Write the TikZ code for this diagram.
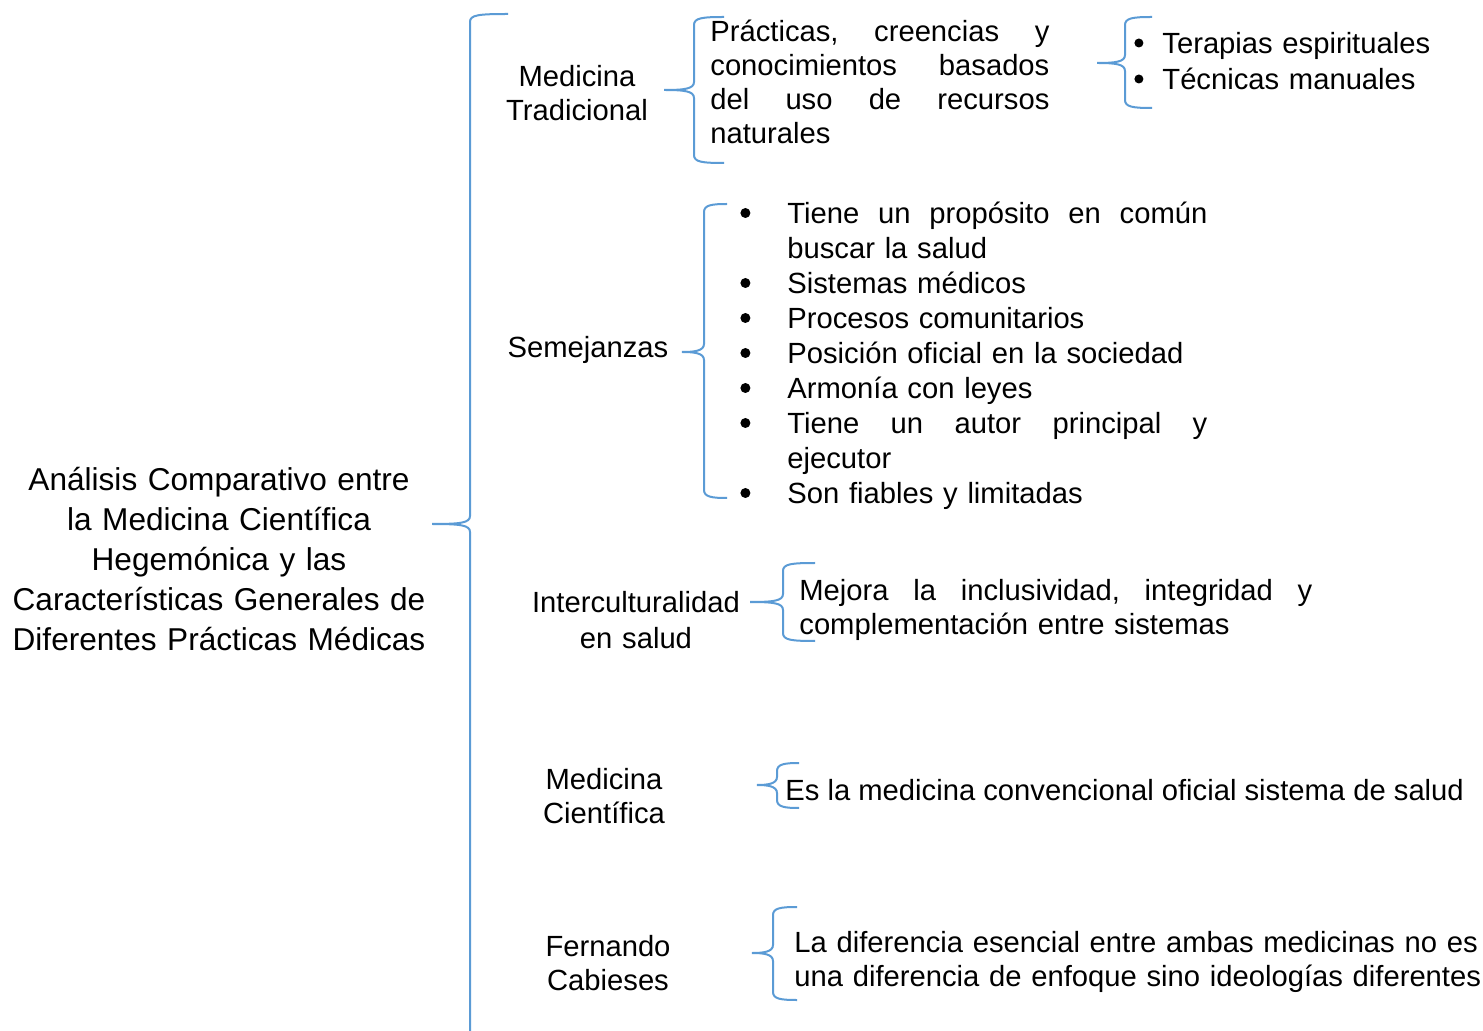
\documentclass[tikz,border=0pt]{standalone}
\usepackage{fontspec}
\setmainfont{Liberation Sans}
\definecolor{bracecol}{RGB}{91,155,213}

% word-style curly brace: tip x, tip y, spine x, end x, top y, bottom y
\newcommand{\wordbrace}[6]{%
  \draw[brace line] (#4,#5) .. controls ({#3+8},#5) and (#3,{#5+1}) .. (#3,{#5+8})
    -- (#3,{#2-8}) .. controls (#3,{#2-1}) and ({#3-10},#2) .. (#1,#2)
    .. controls ({#3-10},#2) and (#3,{#2+1}) .. (#3,{#2+8})
    -- (#3,{#6-8}) .. controls (#3,{#6-1}) and ({#3+8},#6) .. (#4,#6);}
% bullet of a list line, in a box of the given width
\newcommand{\blt}[2]{\makebox[#1][l]{\tikz[baseline=-5.5pt]\fill (#2,0) circle (#2);}}

\begin{document}
\begin{tikzpicture}[x=0.5pt, y=-0.5pt,
    brace line/.style={draw=bracecol, line width=1pt},
    txt/.style={inner sep=0pt, font=\fontsize{14.6}{17}\selectfont},
    head/.style={txt, anchor=base, align=center},
    body/.style={txt, anchor=base west, align=left}]
  \useasboundingbox (0,0) rectangle (1483,1031);

  \node[head, text width=215pt, font=\fontsize{15.8}{20}\selectfont] (analisis) at (219,491)
    {Análisis Comparativo entre\\ la Medicina Científica\\ Hegemónica y las\\
     Características Generales de\\ Diferentes Prácticas Médicas};

  \wordbrace{432}{524}{470}{508}{14}{1060}

  % medicina tradicional
  \node[head, text width=90pt] (medtrad) at (577,87) {Medicina\\ Tradicional};
  \wordbrace{664}{90}{694}{724}{17}{163}
  \node[body, text width=169.5pt] (practicas) at (710,42)
    {Prácticas,\hfill creencias\hfill y\\ conocimientos\hfill basados\\
     del\hfill uso\hfill de\hfill recursos\\ naturales};
  \wordbrace{1097}{63}{1125}{1152}{17}{108}
  \node[body, text width=170pt, font=\fontsize{14.6}{18}\selectfont] (tecnicas) at (1134,54)
    {\blt{14pt}{2.25pt}Terapias espirituales\\
     \blt{14pt}{2.25pt}Técnicas manuales};

  % semejanzas
  \node[head] (semejanzas) at (588,358) {Semejanzas};
  \wordbrace{682}{352}{704}{727}{204}{498}
  \node[body, text width=233.5pt, font=\fontsize{14.6}{17.5}\selectfont] (semlist) at (740,224)
    {\blt{23.5pt}{2.5pt}Tiene\hfill un\hfill propósito\hfill en\hfill común\\
     \hspace*{23.5pt}buscar la salud\\
     \blt{23.5pt}{2.5pt}Sistemas médicos\\
     \blt{23.5pt}{2.5pt}Procesos comunitarios\\
     \blt{23.5pt}{2.5pt}Posición oficial en la sociedad\\
     \blt{23.5pt}{2.5pt}Armonía con leyes\\
     \blt{23.5pt}{2.5pt}Tiene\hfill un\hfill autor\hfill principal\hfill y\\
     \hspace*{23.5pt}ejecutor\\
     \blt{23.5pt}{2.5pt}Son fiables y limitadas};

  % interculturalidad
  \node[head, text width=120pt, font=\fontsize{14.6}{17.5}\selectfont] (intercult) at (636,613)
    {Interculturalidad\\ en salud};
  \wordbrace{750}{602}{783}{815}{563}{641}
  \node[body, text width=256.5pt] (mejora) at (799,601)
    {Mejora\hfill la\hfill inclusividad,\hfill integridad\hfill y\\ complementación entre sistemas};

  % medicina cientifica
  \node[head, text width=90pt] (medcient) at (604,789) {Medicina\\ Científica};
  \wordbrace{757}{785}{777}{799}{763}{808}
  \node[body] (convencional) at (785,800) {Es la medicina convencional oficial sistema de salud};

  % fernando cabieses
  \node[head, text width=90pt] (cabieses) at (608,956) {Fernando\\ Cabieses};
  \wordbrace{752}{953}{773}{797}{907}{1000}
  \node[body, text width=360pt] (diferencia) at (794,952)
    {\makebox[341.5pt][s]{La diferencia esencial entre ambas medicinas no es}\\
     \mbox{una diferencia de enfoque sino ideologías diferentes}};
\end{tikzpicture}
\end{document}
